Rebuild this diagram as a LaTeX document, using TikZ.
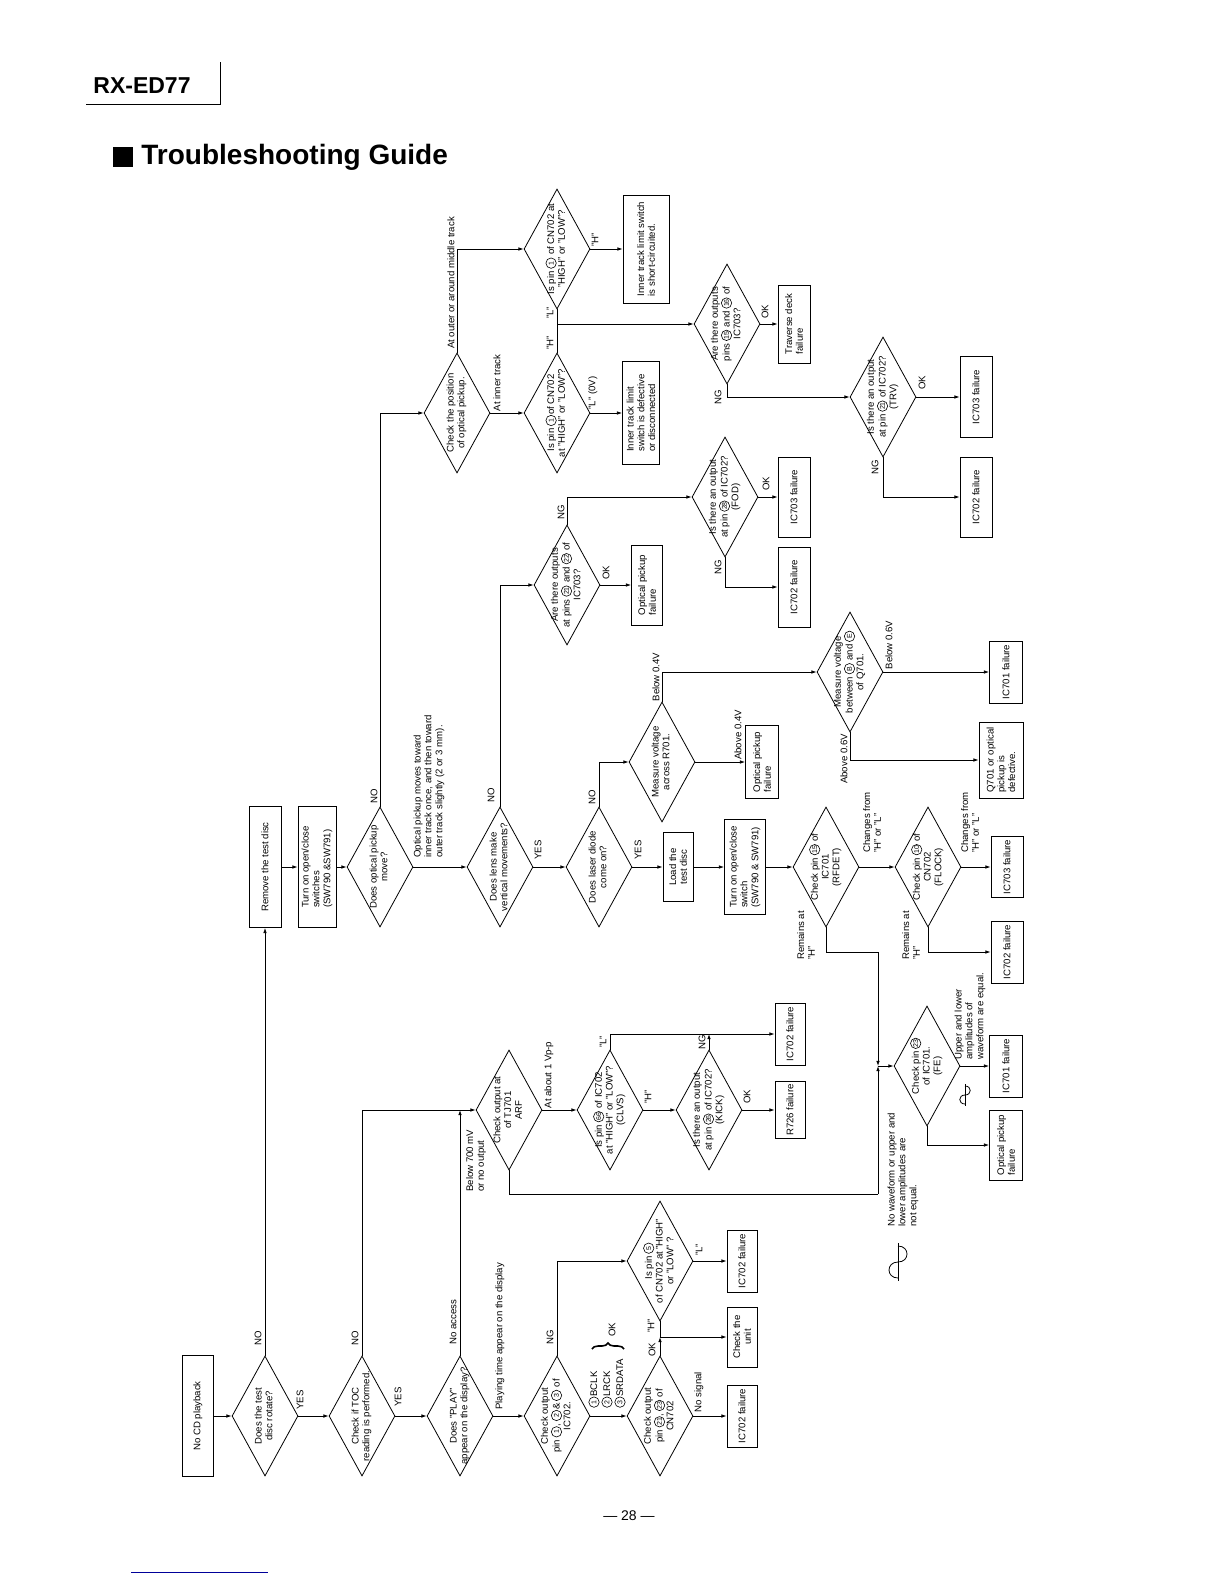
\documentclass[tikz,border=0pt]{standalone}
\usepackage{fontspec}
\setmainfont{Liberation Sans}
\usetikzlibrary{arrows.meta, shapes.geometric, decorations.pathreplacing}
\newcommand{\smalltxt}{\fontsize{4.8}{5.4}\selectfont}
\newcommand{\circnum}[1]{\tikz[baseline=-0.6ex]\node[draw,circle,inner sep=0pt,minimum size=5.2pt,line width=0.3pt,font=\fontsize{3.5}{3.5}\selectfont]{#1};}
\newcommand{\dtext}[1]{\smash{\makebox[0pt]{\raisebox{-1.2pt}{\begin{tabular}{@{}c@{}}#1\end{tabular}}}}}

\begin{document}
\begin{tikzpicture}[x=0.5pt,y=-0.5pt,line width=0.4pt,
	dia/.style={diamond,draw,rotate=90,inner sep=0pt,minimum width=60pt,minimum height=33pt,font=\smalltxt},
	box/.style 2 args={draw,rotate=90,inner sep=1pt,minimum width=#1,minimum height=#2,align=left,font=\smalltxt},
	lbl/.style={rotate=90,inner sep=0pt,align=left,font=\smalltxt},
	arr/.style={-{Latex[length=2.6pt,width=1.8pt]}}]
	\useasboundingbox (0,0) rectangle (1224,1584);
	\node[font=\bfseries\fontsize{11.5}{13}\selectfont] (model) at (142,86) {RX-ED77};
	\draw (86,104) -- (220,104) -- (220,62);
	\fill (113,147) rectangle (133,167);
	\node[font=\bfseries\fontsize{14}{16}\selectfont,anchor=west,inner sep=0pt] (title) at (141,157) {Troubleshooting Guide};
	\node[font=\fontsize{7}{8}\selectfont] (page) at (629,1516) {— 28 —};
	\draw[blue!60!black,line width=0.5pt] (131,1572) -- (268,1572);

	\node[box={60.5pt}{15.5pt}] (b1) at (198,1416) {No CD playback};
	\node[dia] (q1) at (265,1416) {\dtext{Does the test\\disc rotate?}};
	\node[dia] (q2) at (362,1416) {\dtext{Check if TOC\\reading is performed.}};
	\node[dia] (q3) at (460,1416) {\dtext{Does "PLAY"\\appear on the display?}};
	\node[dia] (q4) at (557,1416) {\dtext{Check output\\pin \circnum{1}, \circnum{2}\& \circnum{3} of\\IC702.}};
	\node[dia] (q6) at (660,1416) {\dtext{Check output\\pin \circnum{21}, \circnum{23} of\\CN702}};
	\node[dia] (q5) at (660,1261) {\dtext{Is pin \circnum{5}\\of CN702 at "HIGH"\\or "LOW" ?}};
	\node[box={31pt}{15pt}] (b4) at (742,1261) {IC702 failure};
	\node[box={30pt}{15pt},align=center] (b5) at (742,1337) {Check the\\unit};
	\node[box={31pt}{15pt}] (b6) at (742,1416) {IC702 failure};

	\node[box={60.5pt}{16pt}] (b2) at (265,867) {Remove the test disc};
	\node[box={60.5pt}{19pt}] (b3) at (317,867) {Turn on open/close\\switches\\(SW790 \&SW791)};
	\node[dia] (q7) at (380,867) {\dtext{Does optical pickup\\move?}};
	\node[dia] (q9) at (500,867) {\dtext{Does lens make\\vertical movements?}};
	\node[dia] (q14) at (599,867) {\dtext{Does laser diode\\come on?}};
	\node[box={34.5pt}{15pt},align=center] (b13) at (678,867) {Load the\\test disc};
	\node[box={47.5pt}{20.5pt}] (b14) at (745,867) {Turn on open/close\\switch\\(SW790 \& SW791)};
	\node[dia] (q15) at (826,867) {\dtext{Check pin \circnum{15} of\\IC701\\(RFDET)}};
	\node[dia] (q16) at (928,867) {\dtext{Check pin \circnum{10} of\\CN702\\(FLOCK)}};
	\node[box={30.5pt}{16pt}] (b15) at (1007,867) {IC703 failure};
	\node[box={31pt}{16pt}] (b16) at (1007,952) {IC702 failure};

	\node[dia] (q8) at (457,413) {\dtext{Check the position\\of optical pickup.}};
	\node[dia] (q22) at (557,249) {\dtext{Is pin \circnum{1} of CN702 at\\"HIGH" or "LOW"?}};
	\node[dia] (q21) at (557,413) {\dtext{Is pin \circnum{1}of CN702\\at "HIGH" or "LOW"?}};
	\node[box={54pt}{23pt}] (b22) at (646,249) {Inner track limit switch\\is short-circuited.};
	\node[box={51.5pt}{18.5pt}] (b21) at (641,413) {Inner track limit\\switch is defective\\or disconnected};
	\node[dia] (q23) at (727,324) {\dtext{Are there outputs\\pins \circnum{15} and \circnum{16} of\\IC703?}};
	\node[box={39pt}{16pt}] (b23) at (794,324) {Traverse deck\\failure};
	\node[dia] (q24) at (883,397) {\dtext{Is there an output\\at pin \circnum{21} of IC702?\\(TRV)}};
	\node[box={40.5pt}{16pt}] (b24) at (976,397) {IC703 failure};
	\node[box={40pt}{16pt}] (b25) at (976,497) {IC702 failure};

	\node[dia] (q10) at (567,585) {\dtext{Are there outputs\\at pins \circnum{21} and \circnum{22} of\\IC703?}};
	\node[box={40pt}{15.5pt}] (b7) at (647,585) {Optical pickup\\failure};
	\node[dia] (q11) at (725,497) {\dtext{Is there an output\\at pin \circnum{28} of IC702?\\(FOD)}};
	\node[box={40pt}{16pt}] (b8) at (794,497) {IC703 failure};
	\node[box={40pt}{16pt}] (b9) at (794,587) {IC702 failure};
	\node[dia] (q12) at (662,762) {\dtext{Measure voltage\\across R701.}};
	\node[box={36.5pt}{16.5pt}] (b10) at (762,762) {Optical pickup\\failure};
	\node[dia] (q13) at (850,672) {\dtext{Measure voltage\\between \circnum{B} and \circnum{E}\\of Q701.}};
	\node[box={31pt}{16.5pt}] (b11) at (1006,672) {IC701 failure};
	\node[box={38pt}{22pt}] (b12) at (1001,760) {Q701 or optical\\pickup is\\defective.};

	\node[dia] (q18) at (509,1110) {\dtext{Check output at\\of TJ701\\ARF}};
	\node[dia] (q19) at (610,1110) {\dtext{Is pin \circnum{66} of IC702\\at "HIGH" or "LOW"?\\(CLVS)}};
	\node[dia] (q20) at (709,1110) {\dtext{Is there an output\\at pin \circnum{26} of IC702?\\(KICK)}};
	\node[box={31pt}{15pt}] (b19) at (790,1034) {IC702 failure};
	\node[box={28.5pt}{15pt}] (b20) at (790,1110) {R726 failure};
	\node[dia] (q17) at (927,1066) {\dtext{Check pin \circnum{23}\\of IC701.\\(FE)}};
	\node[box={31pt}{16.5pt}] (b17) at (1006,1066) {IC701 failure};
	\node[box={35pt}{16.5pt}] (b18) at (1006,1145) {Optical pickup\\failure};

	\node[lbl] (n1) at (258,1338) {NO};
	\node[lbl] (y1) at (300,1400) {YES};
	\node[lbl] (n2) at (355,1338) {NO};
	\node[lbl] (y2) at (398,1397) {YES};
	\node[lbl] (na) at (453,1322) {No access};
	\node[lbl,anchor=west] (pt) at (500,1410) {Playing time appear on the display};
	\node[lbl] (ng4) at (550,1337) {NG};
	\node[lbl,anchor=west] (sig) at (607,1408) {\circnum{1}BCLK\\\circnum{2}LRCK\\\circnum{3}SRDATA};
	\draw[line width=0.8pt,decorate,decoration={brace,amplitude=3pt}] (592,1349) -- (624,1349);
	\node[lbl] (ok4) at (612,1330) {OK};
	\node[lbl] (ok6) at (652,1350) {OK};
	\node[lbl] (h5) at (651,1326) {"H"};
	\node[lbl] (l5) at (699,1250) {"L"};
	\node[lbl] (nsig) at (699,1392) {No signal};
	\node[lbl] (n7) at (374,796) {NO};
	\node[lbl,anchor=west] (mv) at (429,858) {Optical pickup moves toward\\inner track once, and then toward\\outer track slightly (2 or 3 mm).};
	\node[lbl] (n9) at (491,795) {NO};
	\node[lbl] (y9) at (538,850) {YES};
	\node[lbl] (ng10) at (561,512) {NG};
	\node[lbl] (ok10) at (606,573) {OK};
	\node[lbl] (ok11) at (766,484) {OK};
	\node[lbl] (ng11) at (718,567) {NG};
	\node[lbl] (n14) at (592,797) {NO};
	\node[lbl] (y14) at (638,850) {YES};
	\node[lbl] (bl4) at (656,677) {Below 0.4V};
	\node[lbl] (ab4) at (738,735) {Above 0.4V};
	\node[lbl] (bl6) at (889,645) {Below 0.6V};
	\node[lbl] (ab6) at (844,759) {Above 0.6V};
	\node[lbl,anchor=west] (ch15) at (872,853) {Changes from\\"H" or "L"};
	\node[lbl,anchor=west] (ch16) at (970,853) {Changes from\\"H" or "L"};
	\node[lbl,anchor=west] (rm15) at (806,960) {Remains at\\"H"};
	\node[lbl,anchor=west] (rm16) at (911,960) {Remains at\\"H"};
	\node[lbl,anchor=west] (b700) at (476,1192) {Below 700 mV\\or no output};
	\node[lbl] (vpp) at (549,1075) {At about 1 Vp-p};
	\node[lbl] (l19) at (603,1042) {"L"};
	\node[lbl] (h19) at (648,1097) {"H"};
	\node[lbl] (ng20) at (702,1042) {NG};
	\node[lbl] (ok20) at (747,1097) {OK};
	\node[lbl,anchor=west] (eq) at (970,1060) {Upper and lower\\amplitudes of\\waveform are equal.};
	\node[lbl,anchor=west] (neq) at (903,1227) {No waveform or upper and\\lower amplitudes are\\not equal.};
	\node[lbl] (outer) at (451,283) {At outer or around middle track};
	\node[lbl] (inner) at (497,383) {At inner track};
	\node[lbl] (l21) at (593,393) {"L" (0V)};
	\node[lbl] (h21) at (550,343) {"H"};
	\node[lbl] (l22) at (550,313) {"L"};
	\node[lbl] (h22) at (595,240) {"H"};
	\node[lbl] (ok23) at (765,312) {OK};
	\node[lbl] (ng23) at (718,397) {NG};
	\node[lbl] (ok24) at (922,383) {OK};
	\node[lbl] (ng24) at (875,467) {NG};

	\coordinate (j1) at (660,1337);
	\coordinate (j2) at (878,1066);
	\coordinate (j3) at (460,1110);
	\coordinate (j4) at (557,324);
	\coordinate (k1) at (878,952);
	\coordinate (k2) at (878,1194);

	\draw[arr] (b1.south) -- (q1.north);
	\draw[arr] (q1.south) -- (q2.north);
	\draw[arr] (q2.south) -- (q3.north);
	\draw[arr] (q3.south) -- (q4.north);
	\draw[arr] (q4.south) -- (q6.north);
	\draw[arr] (q6.south) -- (b6.north);
	\draw[arr] (q4.east) |- (q5.north);
	\draw[arr] (q5.south) -- (b4.north);
	\draw[arr] (q6.east) -- (j1);
	\draw (q5.west) -- (j1);
	\draw[arr] (j1) -- (b5.north);
	\draw[arr] (q1.east) -- (b2.west);
	\draw[arr] (b2.south) -- (b3.north);
	\draw[arr] (b3.south) -- (q7.north);
	\draw[arr] (q7.east) |- (q8.north);
	\draw[arr] (q7.south) -- (q9.north);
	\draw[arr] (q9.east) |- (q10.north);
	\draw[arr] (q10.east) |- (q11.north);
	\draw[arr] (q10.south) -- (b7.north);
	\draw[arr] (q11.south) -- (b8.north);
	\draw[arr] (q11.west) |- (b9.north);
	\draw[arr] (q9.south) -- (q14.north);
	\draw[arr] (q14.east) |- (q12.north);
	\draw[arr] (q12.east) |- (q13.north);
	\draw[arr] (q12.south) -- (b10.north);
	\draw[arr] (q13.south) -- (b11.north);
	\draw[arr] (q13.west) |- (b12.north);
	\draw[arr] (q14.south) -- (b13.north);
	\draw[arr] (b13.south) -- (b14.north);
	\draw[arr] (b14.south) -- (q15.north);
	\draw[arr] (q15.south) -- (q16.north);
	\draw[arr] (q16.south) -- (b15.north);
	\draw[arr] (q16.west) |- (b16.north);
	\draw (q15.west) |- (k1);
	\draw[arr] (k1) -- (j2);
	\draw (q18.west) |- (k2);
	\draw[arr] (k2) -- (j2);
	\draw[arr] (j2) -- (q17.north);
	\draw[arr] (q2.east) |- (q18.north);
	\draw[arr] (q3.east) -- (j3);
	\draw[arr] (q18.south) -- (q19.north);
	\draw[arr] (q19.east) |- (b19.north);
	\draw[arr] (q19.south) -- (q20.north);
	\draw[arr] (q20.east) -- (q20.east |- b19.north);
	\draw[arr] (q20.south) -- (b20.north);
	\draw[arr] (q17.south) -- (b17.north);
	\draw[arr] (q17.west) |- (b18.north);
	\draw[arr] (q8.east) |- (q22.north);
	\draw[arr] (q8.south) -- (q21.north);
	\draw[arr] (q21.south) -- (b21.north);
	\draw[arr] (q22.south) -- (b22.north);
	\draw (q22.west) -- (q21.east);
	\draw[arr] (j4) -- (q23.north);
	\draw[arr] (q23.south) -- (b23.north);
	\draw[arr] (q23.west) |- (q24.north);
	\draw[arr] (q24.south) -- (b24.north);
	\draw[arr] (q24.west) |- (b25.north);

	\draw (898,1243) -- (898,1281);
	\draw (898,1278) .. controls (886,1278) and (886,1262) .. (898,1262) .. controls (910,1262) and (910,1246) .. (898,1246);
	\draw (965,1084) -- (965,1106);
	\draw (965,1104) .. controls (958,1104) and (958,1095) .. (965,1095) .. controls (972,1095) and (972,1086) .. (965,1086);
\end{tikzpicture}
\end{document}
